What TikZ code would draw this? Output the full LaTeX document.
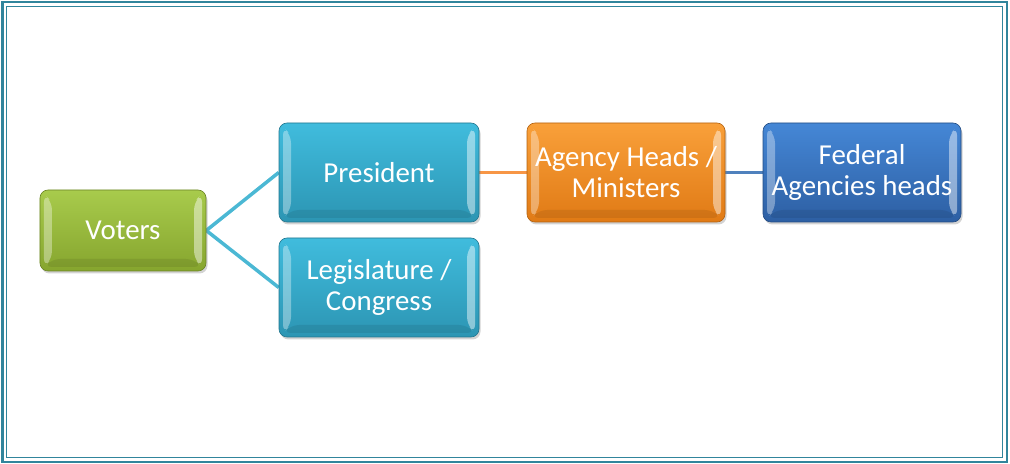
\documentclass[tikz,border=0pt]{standalone}
\usepackage{fontspec}
\setmainfont{Carlito}
\usetikzlibrary{shadows,backgrounds,calc}
\definecolor{frame}{HTML}{31859C}
\definecolor{gTop}{HTML}{A8CB4C}
\definecolor{gBot}{HTML}{86A52E}
\definecolor{cTop}{HTML}{40BCDD}
\definecolor{cBot}{HTML}{2C95B3}
\definecolor{oTop}{HTML}{F9A03A}
\definecolor{oBot}{HTML}{E07A15}
\definecolor{bTop}{HTML}{4587D6}
\definecolor{bBot}{HTML}{2D5FA3}
\definecolor{lineC}{HTML}{4BB8D4}
\definecolor{lineO}{HTML}{F79646}
\definecolor{lineB}{HTML}{4F81BD}
\tikzset{
  bevelbox/.style={rounded corners=8bp, text=white, align=center,
    font=\fontsize{29}{31}\selectfont, inner sep=0pt,
    drop shadow={shadow xshift=1.5bp, shadow yshift=-2.5bp, opacity=0.35},
    path picture={
      \fill[white,opacity=0.35]
        ($(path picture bounding box.north west)+(4bp,-4bp)$) --
        ($(path picture bounding box.north west)+(12bp,-12bp)$) --
        ($(path picture bounding box.south west)+(12bp,12bp)$) --
        ($(path picture bounding box.south west)+(4bp,4bp)$) -- cycle;
      \fill[white,opacity=0.45]
        ($(path picture bounding box.north east)+(-4bp,-4bp)$) --
        ($(path picture bounding box.north east)+(-12bp,-12bp)$) --
        ($(path picture bounding box.south east)+(-12bp,12bp)$) --
        ($(path picture bounding box.south east)+(-4bp,4bp)$) -- cycle;
      \fill[black,opacity=0.08]
        ($(path picture bounding box.south west)+(4bp,4bp)$) --
        ($(path picture bounding box.south west)+(12bp,12bp)$) --
        ($(path picture bounding box.south east)+(-12bp,12bp)$) --
        ($(path picture bounding box.south east)+(-4bp,4bp)$) -- cycle;
    }},
  greenbox/.style={bevelbox, top color=gTop, bottom color=gBot, draw=gBot!80!black, line width=0.6bp},
  cyanbox/.style={bevelbox, top color=cTop, bottom color=cBot, draw=cBot!80!black, line width=0.6bp},
  orangebox/.style={bevelbox, top color=oTop, bottom color=oBot, draw=oBot!80!black, line width=0.6bp},
  bluebox/.style={bevelbox, top color=bTop, bottom color=bBot, draw=bBot!80!black, line width=0.6bp},
  conn/.style={line width=3.5bp}
}
\begin{document}
\begin{tikzpicture}[x=1bp,y=-1bp]
\useasboundingbox (0,0) rectangle (1010,464);
\draw[frame, line width=2bp] (2.5,2.5) rectangle (1006.5,461.5);
\draw[frame, line width=1.6bp] (6.5,6.5) rectangle (1002.5,457.5);
\node[greenbox, minimum width=166bp, minimum height=81bp] (voters) at (123,230.5) {Voters};
\node[cyanbox, minimum width=200bp, minimum height=99bp] (pres) at (379,172.5) {President};
\node[cyanbox, minimum width=200bp, minimum height=99bp] (leg) at (379,287.5) {Legislature /\\Congress};
\node[orangebox, minimum width=198bp, minimum height=99bp] (agency) at (626,172.5) {Agency Heads /\\Ministers};
\node[bluebox, minimum width=198bp, minimum height=99bp] (fed) at (862,172.5) {Federal\\Agencies heads};
\begin{scope}[on background layer]
\draw[conn, lineC] (pres.west) -- (voters.east) -- (leg.west);
\draw[conn, lineO] (pres.east) -- (agency.west);
\draw[conn, lineB] (agency.east) -- (fed.west);
\end{scope}
\end{tikzpicture}
\end{document}
